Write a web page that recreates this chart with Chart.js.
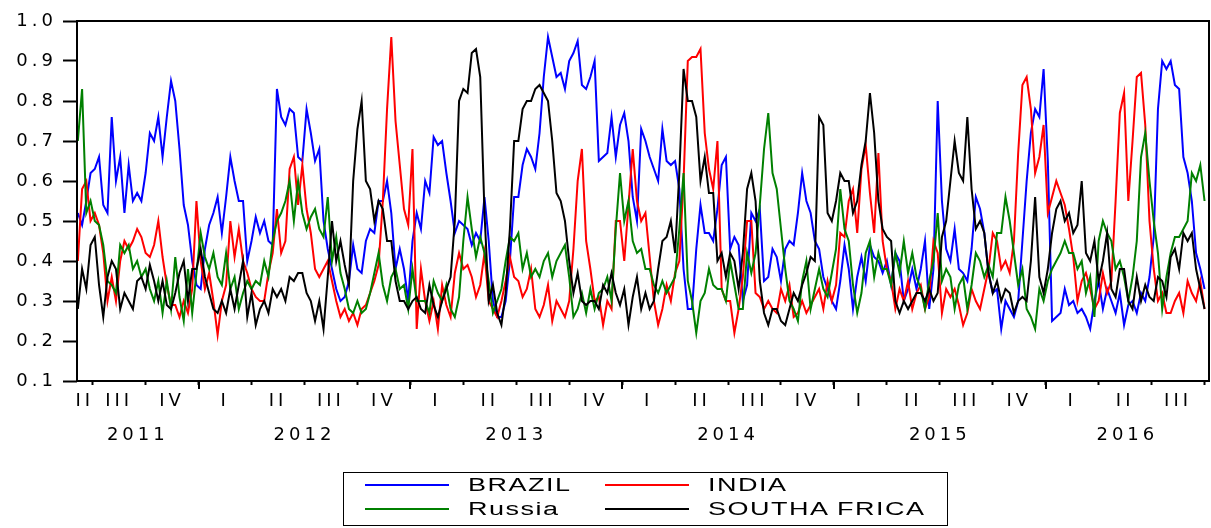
<!DOCTYPE html>
<html>
<head>
<meta charset="utf-8">
<title>BRICS</title>
<script src="https://cdn.jsdelivr.net/npm/chart.js@4.4.1/dist/chart.umd.min.js"></script>
<style>
    html, body { margin: 0; padding: 0; background: #fff; }
    #wrap { position: relative; width: 1211px; height: 528px; }
    #legend {
        position: absolute; left: 343px; top: 472px; width: 605px; height: 54px;
        border: 1.5px solid #000; box-sizing: border-box;
        font-family: 'Liberation Sans', Arial, sans-serif; font-size: 18px; color: #000;
    }
    .item { position: absolute; height: 24px; width: 280px; }
    .swatch { position: absolute; left: 0; top: 11px; width: 84px; height: 2px; }
    .name {
        position: absolute; left: 103px; top: 0; line-height: 24px; white-space: nowrap;
        letter-spacing: 1px; transform: scaleX(1.5); transform-origin: left center;
    }
</style>
</head>
<body>
<div id="wrap">
    <canvas id="chart" width="1211" height="528"></canvas>
    <div id="legend"></div>
</div>
<script>
// observations are roughly weekly, starting late May 2011
const START_YEAR = 2011.43;
const STEP = 0.02;
const X_MIN = 2011.426;
const X_MAX = 2016.771;

const Y_TICKS = [0.1, 0.2, 0.3, 0.4, 0.5, 0.6, 0.7, 0.8, 0.9, 1.0];
const QUARTERS = ['I', 'II', 'III', 'IV'];
const YEARS = [2011, 2012, 2013, 2014, 2015, 2016];

const SERIES_NAMES = ['BRAZIL', 'INDIA', 'Russia', 'SOUTHA FRICA'];
const SERIES_COLORS = ['#0000ff', '#ff0000', '#008000', '#000000'];

const BRAZIL = [
    0.52,0.49,0.55,0.62,0.63,0.66,0.54,0.52,0.76,0.6,
    0.66,0.52,0.64,0.55,0.57,0.55,0.62,0.72,0.7,0.76,
    0.66,0.76,0.85,0.8,0.68,0.54,0.49,0.4,0.34,0.33,
    0.43,0.49,0.52,0.56,0.47,
    0.56,0.66,0.6,0.55,0.55,0.4,0.45,0.51,0.47,0.5,
    0.45,0.44,0.83,0.76,0.74,0.78,0.77,0.66,0.65,0.78,
    0.72,0.65,0.68,0.5,0.43,0.38,0.33,0.3,0.31,0.35,
    0.44,0.38,0.37,0.45,0.48,0.47,0.55,0.55,0.6,
    0.52,0.38,0.43,0.38,0.3,0.45,0.52,0.48,0.6,0.57,
    0.71,0.69,0.7,0.62,0.55,0.47,0.5,0.49,0.48,0.44,
    0.47,0.45,0.56,0.45,0.3,0.26,0.26,0.3,0.4,0.56,
    0.56,0.64,0.68,0.66,0.63,0.72,0.86,0.96,0.91,
    0.86,0.87,0.83,0.9,0.92,0.95,0.84,0.83,0.86,0.9,
    0.65,0.66,0.67,0.76,0.66,0.74,0.77,0.7,0.56,0.5,
    0.73,0.7,0.66,0.63,0.6,0.73,0.65,0.64,0.65,0.58,
    0.38,0.28,0.28,0.43,0.54,0.47,0.47,0.45,0.53,
    0.64,0.66,0.43,0.46,0.44,0.3,0.34,0.52,0.5,0.53,
    0.35,0.36,0.43,0.41,0.35,0.43,0.45,0.44,0.52,0.62,
    0.55,0.52,0.45,0.43,0.36,0.33,0.3,0.28,0.35,0.44,
    0.38,0.28,0.36,0.41,0.35,0.44,0.41,0.4,0.37,
    0.4,0.34,0.42,0.4,0.3,0.33,0.38,0.33,0.38,0.45,
    0.28,0.38,0.8,0.55,0.43,0.4,0.48,0.38,0.37,0.35,
    0.43,0.56,0.53,0.47,0.37,0.32,0.33,0.23,0.3,0.28,
    0.26,0.3,0.45,0.6,0.72,0.78,
    0.76,0.88,0.65,0.25,0.26,0.27,0.33,0.29,0.3,0.27,
    0.28,0.26,0.23,0.3,0.35,0.28,0.33,0.3,0.27,0.32,
    0.24,0.29,0.3,0.27,0.32,0.3,0.36,0.46,0.78,0.9,
    0.88,0.9,0.84,0.83,0.66,0.62,0.55,0.42,0.38,0.33
];

const INDIA = [
    0.4,0.58,0.6,0.5,0.52,0.49,0.42,0.3,0.36,0.3,
    0.4,0.45,0.43,0.45,0.48,0.46,0.42,0.41,0.44,0.5,
    0.41,0.34,0.29,0.29,0.26,0.3,0.27,0.33,0.55,0.4,
    0.33,0.37,0.3,0.215,0.3,
    0.34,0.5,0.41,0.48,0.4,0.37,0.33,0.31,0.3,0.3,
    0.37,0.42,0.53,0.42,0.45,0.63,0.66,0.54,0.64,0.53,
    0.47,0.38,0.36,0.38,0.4,0.35,0.3,0.26,0.28,0.25,
    0.27,0.24,0.28,0.29,0.32,0.35,0.39,0.55,0.78,
    0.96,0.75,0.64,0.53,0.49,0.68,0.23,0.38,0.3,0.25,
    0.3,0.23,0.34,0.29,0.26,0.37,0.42,0.38,0.39,0.36,
    0.31,0.34,0.42,0.3,0.28,0.26,0.3,0.35,0.41,0.36,
    0.35,0.31,0.33,0.38,0.28,0.26,0.29,0.34,0.25,
    0.3,0.28,0.26,0.3,0.43,0.6,0.68,0.45,0.38,0.3,
    0.31,0.24,0.3,0.28,0.5,0.5,0.4,0.54,0.68,0.55,
    0.5,0.52,0.41,0.3,0.24,0.28,0.34,0.3,0.37,0.4,
    0.6,0.9,0.91,0.91,0.93,0.72,0.63,0.58,0.7,
    0.33,0.3,0.3,0.22,0.28,0.36,0.5,0.5,0.32,0.31,
    0.28,0.3,0.28,0.27,0.33,0.3,0.34,0.26,0.27,0.3,
    0.27,0.29,0.31,0.33,0.28,0.35,0.3,0.34,0.47,0.46,
    0.55,0.58,0.47,0.63,0.69,0.57,0.47,0.67,0.45,
    0.38,0.35,0.28,0.33,0.3,0.35,0.28,0.32,0.34,0.28,
    0.31,0.45,0.42,0.27,0.33,0.31,0.33,0.29,0.24,0.27,
    0.33,0.3,0.28,0.33,0.38,0.47,0.45,0.38,0.4,0.37,
    0.45,0.67,0.84,0.86,0.78,0.62,
    0.66,0.74,0.52,0.56,0.6,0.57,0.54,0.48,0.41,0.3,
    0.35,0.37,0.33,0.28,0.3,0.37,0.32,0.35,0.55,0.77,
    0.82,0.55,0.7,0.86,0.87,0.74,0.5,0.38,0.3,0.32,
    0.27,0.27,0.3,0.32,0.27,0.35,0.32,0.3,0.35,0.28
];

const RUSSIA = [
    0.7,0.83,0.52,0.55,0.5,0.49,0.44,0.35,0.34,0.32,
    0.44,0.42,0.44,0.38,0.4,0.36,0.38,0.33,0.3,0.35,
    0.27,0.35,0.28,0.41,0.31,0.25,0.38,0.27,0.37,0.47,
    0.41,0.38,0.42,0.36,0.34,
    0.42,0.33,0.36,0.28,0.32,0.35,0.33,0.35,0.34,0.4,
    0.36,0.45,0.5,0.52,0.55,0.6,0.5,0.6,0.52,0.48,
    0.51,0.53,0.48,0.46,0.56,0.4,0.46,0.37,0.33,0.28,
    0.27,0.3,0.27,0.28,0.32,0.37,0.42,0.34,0.3,
    0.36,0.38,0.33,0.34,0.28,0.38,0.3,0.3,0.3,0.27,
    0.35,0.32,0.3,0.34,0.28,0.26,0.31,0.45,0.56,0.48,
    0.41,0.46,0.42,0.35,0.27,0.3,0.33,0.4,0.46,0.45,
    0.47,0.38,0.42,0.36,0.38,0.36,0.4,0.42,0.36,
    0.4,0.42,0.44,0.36,0.26,0.28,0.32,0.27,0.33,0.28,
    0.32,0.33,0.36,0.3,0.48,0.62,0.5,0.55,0.45,0.42,
    0.43,0.38,0.38,0.34,0.32,0.35,0.32,0.34,0.36,0.48,
    0.62,0.35,0.3,0.22,0.3,0.32,0.38,0.34,0.33,
    0.33,0.3,0.4,0.34,0.28,0.28,0.42,0.37,0.42,0.54,
    0.68,0.77,0.62,0.58,0.48,0.38,0.3,0.28,0.25,0.35,
    0.4,0.28,0.33,0.38,0.33,0.31,0.37,0.43,0.58,0.48,
    0.45,0.34,0.27,0.32,0.42,0.45,0.36,0.42,0.38,
    0.38,0.34,0.42,0.37,0.45,0.37,0.42,0.36,0.33,0.28,
    0.35,0.4,0.52,0.35,0.38,0.36,0.28,0.34,0.36,0.28,
    0.34,0.42,0.4,0.36,0.39,0.36,0.47,0.47,0.56,0.5,
    0.42,0.34,0.38,0.28,0.26,0.23,
    0.33,0.3,0.35,0.38,0.4,0.42,0.45,0.42,0.42,0.38,
    0.4,0.32,0.36,0.26,0.45,0.5,0.47,0.45,0.38,0.4,
    0.36,0.3,0.36,0.45,0.66,0.72,0.6,0.5,0.42,0.28,
    0.36,0.42,0.46,0.46,0.48,0.5,0.62,0.6,0.64,0.55
];

const SOUTH_AFRICA = [
    0.28,0.38,0.33,0.44,0.46,0.34,0.26,0.36,0.4,0.38,
    0.28,0.32,0.3,0.28,0.35,0.36,0.33,0.39,0.35,0.3,
    0.35,0.29,0.28,0.32,0.37,0.4,0.3,0.38,0.38,0.43,
    0.36,0.32,0.28,0.27,0.3,
    0.27,0.33,0.28,0.34,0.4,0.26,0.32,0.24,0.28,0.3,
    0.27,0.33,0.31,0.33,0.3,0.36,0.35,0.37,0.37,0.32,
    0.3,0.25,0.3,0.23,0.36,0.5,0.4,0.45,0.39,0.34,
    0.6,0.73,0.8,0.6,0.58,0.5,0.55,0.53,0.45,
    0.45,0.35,0.3,0.3,0.28,0.3,0.31,0.28,0.27,0.34,
    0.29,0.26,0.3,0.33,0.36,0.5,0.8,0.83,0.82,0.92,
    0.93,0.86,0.52,0.3,0.34,0.27,0.24,0.32,0.48,0.7,
    0.7,0.78,0.8,0.8,0.83,0.84,0.82,0.8,0.7,
    0.57,0.55,0.5,0.4,0.32,0.37,0.3,0.29,0.3,0.3,
    0.28,0.34,0.32,0.37,0.32,0.29,0.33,0.24,0.31,0.36,
    0.28,0.32,0.28,0.3,0.38,0.45,0.46,0.5,0.42,0.62,
    0.88,0.8,0.8,0.76,0.6,0.66,0.57,0.57,0.4,
    0.42,0.36,0.42,0.4,0.33,0.42,0.58,0.62,0.55,0.35,
    0.27,0.24,0.28,0.28,0.25,0.24,0.28,0.32,0.3,0.34,
    0.37,0.41,0.4,0.76,0.74,0.52,0.5,0.55,0.62,0.6,
    0.6,0.52,0.55,0.64,0.7,0.82,0.72,0.55,0.48,
    0.46,0.45,0.3,0.27,0.3,0.28,0.3,0.32,0.32,0.3,
    0.33,0.3,0.32,0.46,0.5,0.6,0.7,0.62,0.6,0.76,
    0.58,0.48,0.5,0.47,0.37,0.32,0.35,0.3,0.33,0.32,
    0.27,0.3,0.31,0.3,0.4,0.56,
    0.36,0.32,0.38,0.47,0.53,0.55,0.5,0.52,0.47,0.49,
    0.6,0.42,0.4,0.45,0.35,0.4,0.47,0.33,0.31,0.38,
    0.38,0.3,0.28,0.36,0.3,0.34,0.31,0.3,0.36,0.35,
    0.31,0.41,0.43,0.38,0.47,0.45,0.47,0.38,0.33,0.28
];

const SERIES = [BRAZIL, INDIA, RUSSIA, SOUTH_AFRICA];

function toPoints(values) {
    return values.map((v, i) => ({ x: START_YEAR + i * STEP, y: v }));
}

// quarter boundaries carry a tick mark, quarter and year names sit between them
function buildXTicks() {
    const ticks = [];
    YEARS.forEach(year => {
        QUARTERS.forEach((q, k) => {
            const a = year + k / 4;
            const b = a + 0.25;
            if (b <= X_MIN || a >= X_MAX) return;
            if (a > X_MIN) ticks.push({ value: a, lbl: '', mark: true });
            const lo = Math.max(a, X_MIN), hi = Math.min(b, X_MAX);
            if (hi - lo > 0.05) ticks.push({ value: (lo + hi) / 2, lbl: q, mark: false });
        });
        const lo = Math.max(year, X_MIN), hi = Math.min(year + 1, X_MAX);
        ticks.push({ value: (lo + hi) / 2, lbl: ['', String(year)], mark: false });
    });
    return ticks.sort((p, q) => p.value - q.value);
}

const framePlugin = {
    id: 'frame',
    afterDatasetsDraw(chart) {
        const { ctx, chartArea: a } = chart;
        const xScale = chart.scales.x;
        ctx.save();
        ctx.strokeStyle = '#000';
        ctx.lineWidth = 2;
        ctx.strokeRect(a.left, a.top, a.right - a.left, a.bottom - a.top);
        // year boundaries get a longer tick
        ctx.beginPath();
        YEARS.forEach(y => {
            if (y <= X_MIN || y >= X_MAX) return;
            const px = Math.round(xScale.getPixelForValue(y));
            ctx.moveTo(px, a.bottom);
            ctx.lineTo(px, a.bottom + 8);
        });
        ctx.stroke();
        ctx.restore();
    }
};

// the original labels are set wide
const spacingPlugin = {
    id: 'spacing',
    beforeDraw(chart) { chart.ctx.letterSpacing = '4px'; }
};

Chart.defaults.font.family = "'DejaVu Sans', sans-serif";
Chart.defaults.color = '#000';

new Chart(document.getElementById('chart'), {
    type: 'line',
    data: {
        datasets: SERIES.map((vals, k) => ({
            label: SERIES_NAMES[k],
            data: toPoints(vals),
            borderColor: SERIES_COLORS[k],
            borderWidth: 2,
            pointRadius: 0,
            tension: 0,
            order: SERIES.length - 1 - k
        }))
    },
    options: {
        responsive: false,
        animation: false,
        layout: { padding: { top: 21, right: 2, bottom: 77, left: 0 } },
        plugins: {
            legend: { display: false },
            tooltip: { enabled: false }
        },
        scales: {
            x: {
                type: 'linear',
                min: X_MIN,
                max: X_MAX,
                border: { display: false },
                grid: {
                    drawOnChartArea: false,
                    tickLength: 4,
                    tickWidth: 2,
                    color: c => (c.tick && c.tick.mark) ? '#000' : 'rgba(0,0,0,0)',
                    tickColor: c => (c.tick && c.tick.mark) ? '#000' : 'rgba(0,0,0,0)'
                },
                afterBuildTicks: scale => { scale.ticks = buildXTicks(); },
                afterFit: scale => { scale.height = 70; },
                ticks: {
                    autoSkip: false,
                    maxRotation: 0,
                    minRotation: 0,
                    padding: 0,
                    font: { size: 18, lineHeight: 1.85 },
                    callback: (v, i, ticks) => ticks[i].lbl
                }
            },
            y: {
                min: 0.1,
                max: 1.0,
                border: { display: false },
                grid: { drawOnChartArea: false, tickLength: 14, tickWidth: 2, tickColor: '#000' },
                afterBuildTicks: scale => { scale.ticks = Y_TICKS.map(v => ({ value: v })); },
                afterFit: scale => { scale.width = 77; },
                ticks: {
                    padding: 6,
                    font: { size: 18 },
                    callback: v => v.toFixed(1)
                }
            }
        }
    },
    plugins: [framePlugin, spacingPlugin]
});

// legend box, two columns like the original
const legend = document.getElementById('legend');
SERIES_NAMES.forEach((name, k) => {
    const item = document.createElement('div');
    item.className = 'item';
    item.style.left = (k % 2 === 0 ? 21 : 261) + 'px';
    item.style.top = (k < 2 ? 0 : 24) + 'px';
    item.innerHTML = '<div class="swatch" style="background:' + SERIES_COLORS[k] + '"></div>' +
        '<div class="name">' + name + '</div>';
    legend.appendChild(item);
});
</script>
</body>
</html>
